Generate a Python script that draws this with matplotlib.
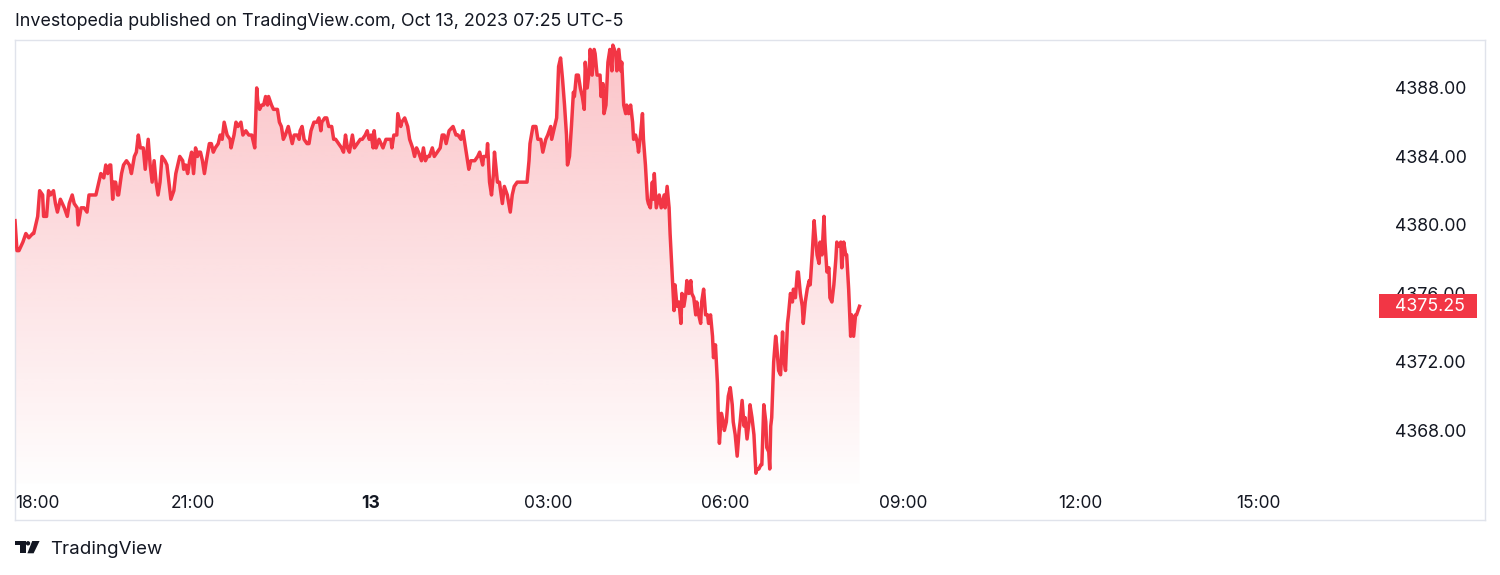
import numpy as np
import pandas as pd
import matplotlib
matplotlib.use('Agg')
import matplotlib.pyplot as plt
import matplotlib.dates as mdates
from matplotlib.colors import to_rgb
from matplotlib.patches import Rectangle, Polygon, Circle
from matplotlib.transforms import blended_transform_factory

plt.rcParams['font.family'] = ['Inter', 'DejaVu Sans']

LINE = '#f23645'
TEXT = '#131722'
BORDER = '#e0e3eb'

# ES futures, minutes after the 18:00 session open
session_start = pd.Timestamp('2023-10-12 18:00')

minutes_overnight = [
    0, 2, 4, 8, 11, 14, 18, 19, 21, 23, 25, 28, 29, 32, 34, 36, 39, 41, 43, 46,
    48, 50, 53, 55, 58, 60, 63, 64, 67, 70, 73, 75, 78, 82, 84, 87, 90, 92, 94, 96,
    97, 99, 100, 102, 104, 105, 108, 110, 113, 116, 118, 121, 123, 125, 127, 130, 132, 135, 137, 139,
    141, 143, 145, 147, 149, 152, 154, 156, 158, 161, 163, 165, 167, 170, 171, 173, 175, 177, 179, 181,
    183, 185, 186, 188, 190, 192, 194, 197, 199, 201, 203, 206, 208, 210, 212, 215, 218, 219, 222, 224,
    226, 229, 231, 234, 237, 240, 241, 243, 245, 246, 248, 250, 252, 254, 256, 257, 260, 262, 266, 268,
    270, 272, 274, 277, 279, 281, 283, 286, 288, 289, 291, 293, 296, 298, 300, 303, 306, 308, 310, 311,
    314, 316, 318, 321, 323, 325, 328, 331, 333, 335, 337, 339, 342, 344, 347, 350, 352, 355, 357, 359,
    361, 363, 364, 366, 369, 371, 373, 376, 378, 381, 382, 384, 387, 388, 391, 392, 395, 398, 400, 403,
    405, 407, 409, 412, 414, 416, 418, 420, 423, 425, 428, 431, 433, 435, 437, 440,
]
prices_overnight = [
    4380.25, 4378.50, 4378.50, 4379.00, 4379.50, 4379.25, 4379.50, 4379.50, 4380.00, 4380.50,
    4382.00, 4381.75, 4380.50, 4380.50, 4382.00, 4381.75, 4382.00, 4381.25, 4380.75, 4381.50,
    4381.25, 4381.00, 4380.50, 4381.25, 4381.75, 4381.25, 4381.00, 4380.00, 4381.00, 4381.00,
    4380.75, 4381.75, 4381.75, 4381.75, 4382.25, 4383.00, 4382.75, 4383.50, 4383.00, 4383.50,
    4383.50, 4381.50, 4382.50, 4382.50, 4381.75, 4381.75, 4383.00, 4383.50, 4383.75, 4383.50,
    4383.00, 4384.00, 4384.25, 4385.25, 4384.50, 4384.50, 4383.25, 4385.00, 4383.50, 4382.50,
    4383.75, 4382.50, 4381.75, 4382.50, 4384.00, 4383.75, 4383.50, 4382.50, 4381.50, 4382.00,
    4383.00, 4383.50, 4384.00, 4383.75, 4383.25, 4383.50, 4383.00, 4383.75, 4384.25, 4383.00,
    4384.50, 4384.00, 4384.25, 4384.25, 4383.75, 4383.00, 4383.75, 4384.75, 4384.75, 4384.25,
    4384.50, 4384.75, 4385.25, 4385.00, 4386.00, 4385.25, 4385.00, 4384.50, 4385.25, 4386.00,
    4385.75, 4386.00, 4385.25, 4385.50, 4385.25, 4385.25, 4385.00, 4384.50, 4388.00, 4387.25,
    4386.75, 4387.00, 4387.00, 4387.50, 4387.00, 4387.50, 4387.00, 4386.75, 4386.75, 4386.00,
    4385.75, 4385.00, 4385.25, 4385.75, 4385.25, 4384.75, 4385.25, 4385.25, 4385.00, 4385.50,
    4385.75, 4385.00, 4384.75, 4384.75, 4385.50, 4386.00, 4386.00, 4386.25, 4385.50, 4386.00,
    4386.25, 4386.25, 4385.75, 4385.75, 4385.00, 4385.00, 4384.75, 4384.50, 4384.25, 4385.25,
    4384.50, 4384.25, 4385.25, 4384.50, 4384.75, 4385.00, 4385.00, 4385.25, 4385.50, 4385.00,
    4385.25, 4384.50, 4385.50, 4384.50, 4385.00, 4384.75, 4384.50, 4385.00, 4385.00, 4385.00,
    4384.50, 4385.25, 4385.25, 4386.50, 4385.75, 4386.00, 4386.25, 4385.75, 4385.00, 4384.50,
    4384.00, 4384.50, 4384.25, 4383.75, 4384.50, 4383.75, 4384.00, 4384.00, 4384.50, 4384.00,
    4384.25, 4384.50, 4385.25, 4385.25, 4384.75, 4385.50,
]

minutes_morning = [
    444, 447, 449, 452, 454, 456, 458, 460, 462, 466, 469, 471, 474, 475, 478, 479, 481, 483, 485, 486,
    489, 491, 494, 496, 499, 502, 504, 506, 509, 512, 514, 516, 519, 521, 522, 525, 528, 530, 533, 535,
    538, 540, 543, 544, 547, 549, 551, 553, 555, 557, 559, 560, 562, 564, 566, 567, 569, 571, 573, 575,
    577, 578, 580, 582, 583, 585, 587, 588, 590, 593, 594, 596, 597, 599, 601, 603, 605, 606, 609, 610,
    612, 614, 615, 617, 619, 620, 622, 624, 626, 627, 629, 631, 632, 634, 636, 637, 639, 641, 642, 644,
    646, 647, 648, 650, 653, 655, 658, 659, 661, 663, 664, 666, 668, 669, 671, 673, 675, 676, 678, 680,
    681, 683, 685, 686, 688, 690, 691, 693, 695, 696, 698, 700, 702, 703, 705, 707, 708, 710, 712, 713,
    714, 716, 718, 719, 721, 723, 725, 727, 728, 730, 732, 734, 735, 737, 739, 740, 742, 744, 745, 747,
    749, 751, 752, 754, 756, 757, 759, 761, 762, 764, 765, 766, 767, 769, 771, 772, 774, 776, 778, 779,
    781, 783, 784, 786, 788, 789, 791, 793, 794, 796, 798, 799, 801, 803, 805, 806, 808, 810, 811, 813,
    815, 816, 818, 820, 821, 823, 825, 826, 828, 830, 832, 833, 835, 837, 838, 840, 842, 843, 845, 847,
    848, 850, 852, 853, 856,
]
prices_morning = [
    4385.75, 4385.25, 4385.25, 4385.00, 4385.50, 4384.75, 4384.00, 4383.25, 4383.75, 4383.75,
    4384.00, 4384.25, 4383.50, 4384.00, 4384.00, 4384.75, 4382.50, 4381.75, 4383.00, 4384.25,
    4382.50, 4382.50, 4381.25, 4382.25, 4381.75, 4380.75, 4381.75, 4382.25, 4382.50, 4382.50,
    4382.50, 4382.50, 4382.50, 4383.75, 4384.75, 4385.75, 4385.75, 4385.00, 4385.00, 4384.25,
    4385.00, 4385.25, 4385.75, 4385.00, 4385.75, 4386.25, 4389.25, 4389.75, 4388.50, 4387.00,
    4385.25, 4383.50, 4384.00, 4385.75, 4387.75, 4387.50, 4388.75, 4388.75, 4388.00, 4387.50,
    4386.75, 4389.50, 4388.00, 4389.00, 4390.25, 4388.75, 4390.25, 4390.00, 4388.75, 4388.75,
    4387.50, 4388.25, 4386.50, 4387.00, 4389.50, 4390.25, 4389.00, 4390.50, 4390.00, 4389.00,
    4390.25, 4389.00, 4389.50, 4387.00, 4386.50, 4387.00, 4386.50, 4387.00, 4386.00, 4385.00,
    4385.25, 4384.75, 4384.25, 4385.25, 4386.50, 4385.00, 4383.50, 4381.50, 4381.25, 4381.00,
    4382.50, 4381.50, 4383.00, 4381.00, 4381.75, 4381.00, 4381.75, 4381.00, 4382.25, 4381.00,
    4379.50, 4377.25, 4375.00, 4376.50, 4375.25, 4375.50, 4374.25, 4376.00, 4375.25, 4376.00,
    4376.75, 4376.00, 4376.75, 4376.00, 4375.75, 4374.75, 4375.50, 4374.75, 4374.25, 4375.50,
    4376.25, 4374.75, 4374.75, 4374.25, 4374.75, 4373.50, 4372.25, 4373.00, 4370.75, 4368.50,
    4367.25, 4369.00, 4368.50, 4368.00, 4368.50, 4370.00, 4370.50, 4369.50, 4368.50, 4367.75,
    4366.50, 4368.00, 4368.50, 4369.75, 4368.25, 4368.75, 4367.50, 4368.50, 4369.50, 4368.75,
    4367.75, 4365.50, 4365.75, 4365.75, 4366.00, 4366.00, 4369.50, 4368.50, 4367.00, 4366.75,
    4365.75, 4368.25, 4368.75, 4372.00, 4373.50, 4373.00, 4371.50, 4371.25, 4373.75, 4372.25,
    4371.50, 4374.25, 4374.75, 4376.00, 4375.50, 4376.25, 4375.75, 4377.25, 4377.25, 4376.00,
    4375.25, 4374.25, 4375.50, 4376.25, 4376.75, 4376.50, 4378.25, 4380.25, 4379.50, 4378.25,
    4377.75, 4379.00, 4378.25, 4380.50, 4379.00, 4377.25, 4377.50, 4375.75, 4375.50, 4376.50,
    4378.00, 4379.00, 4378.75, 4379.00, 4377.50, 4379.00, 4378.25, 4378.25, 4376.25, 4373.50,
    4374.75, 4373.50, 4374.75, 4374.75, 4375.25,
]

price_ticks = [4368, 4372, 4376, 4380, 4384, 4388]
time_tick_hours = [0, 3, 6, 9, 12, 15, 18, 21]
time_tick_labels = ['18:00', '21:00', '13', '03:00', '06:00', '09:00', '12:00', '15:00']

minutes = minutes_overnight + minutes_morning
prices = np.array(prices_overnight + prices_morning)
times = session_start + pd.to_timedelta(minutes, unit='min')
last_price = prices[-1]

W, H = 1500, 575
fig = plt.figure(figsize=(W / 100, H / 100), dpi=100)
ax = fig.add_axes([15 / W, 1 - 520 / H, 1470 / W, 480 / H])

y_lo, y_hi = 4362.77, 4390.80
base = 4364.9

ax.plot(times, prices, color=LINE, lw=2.5, solid_joinstyle='round', zorder=3)

# gradient area under the line
poly = ax.fill_between(times, prices, base, color='none', lw=0)
rgba = np.zeros((256, 1, 4))
rgba[..., :3] = to_rgb(LINE)
rgba[:, 0, 3] = np.linspace(0.30, 0.01, 256)
x0 = mdates.date2num(times[0])
x1 = mdates.date2num(times[-1])
im = ax.imshow(rgba, aspect='auto', extent=[x0, x1, base, y_hi], origin='upper', zorder=2,
               interpolation='bilinear')
im.set_clip_path(poly.get_paths()[0], transform=ax.transData)

ax.set_xlim(session_start, session_start + pd.Timedelta(minutes=1490))
ax.set_ylim(y_lo, y_hi)

ax.set_xticks([session_start + pd.Timedelta(hours=h) for h in time_tick_hours])
ax.set_xticklabels(time_tick_labels)
ax.tick_params(axis='x', length=0, pad=-18, labelsize=12.5, labelcolor=TEXT)
xl = ax.get_xticklabels()
xl[0].set_horizontalalignment('left')
xl[2].set_fontweight('bold')

ax.yaxis.tick_right()
ax.set_yticks(price_ticks)
ax.set_yticklabels([f'{v:.2f}' for v in price_ticks])
ax.tick_params(axis='y', length=0, pad=-64.8, labelsize=12.8, labelcolor=TEXT)

for s in ax.spines.values():
    s.set_color(BORDER)
    s.set_linewidth(1)

# last price tag
tr = blended_transform_factory(ax.transAxes, ax.transData)
ax.add_patch(Rectangle(((1379 - 15) / 1470, last_price - 12 / 17.125), 98 / 1470, 24 / 17.125,
                       transform=tr, facecolor=LINE, edgecolor='none', clip_on=False, zorder=6))
ax.text((1395 - 15) / 1470, last_price, f'{last_price:.2f}', transform=tr, ha='left', va='center',
        color='white', fontsize=12.8, zorder=7, clip_on=False)

fig.text(15 / W, 1 - 22 / H, 'Investopedia published on TradingView.com, Oct 13, 2023 07:25 UTC-5',
         ha='left', va='center', fontsize=12.9, color=TEXT)

# footer logo + wordmark
lax = fig.add_axes([13 / W, 1 - 556 / H, 30 / W, 18 / H])
lax.set_xlim(13, 43)
lax.set_ylim(556, 538)
lax.axis('off')
lax.add_patch(Polygon([(15, 541), (26, 541), (26, 553.3), (20.2, 553.3), (20.2, 545.4), (15, 545.4)],
                      closed=True, color=TEXT, lw=0))
lax.add_patch(Circle((28.0, 543.3), 2.2, color=TEXT, lw=0))
lax.add_patch(Polygon([(32.2, 541), (39.6, 541), (33.6, 553.3), (27.4, 553.3)], closed=True, color=TEXT, lw=0))
fig.text(50 / W, 1 - 549 / H, 'TradingView', ha='left', va='center', fontsize=13.5, color=TEXT)

fig.savefig('out.png', dpi=100)
